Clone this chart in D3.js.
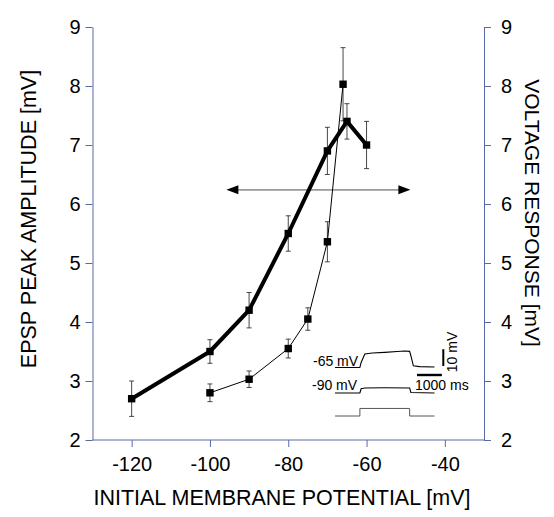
<!DOCTYPE html>
<html>
<head>
<meta charset="utf-8">
<script src="https://cdn.jsdelivr.net/npm/d3@7"></script>
<style>
  body { margin: 0; background: #fff; }
  svg text { font-family: "Liberation Sans", Arial, Helvetica, sans-serif; fill: #000; }
</style>
</head>
<body>
<svg id="svg" width="554" height="517"></svg>
<script>
// EPSP peak amplitude (thick line)
const epspX   = [-120, -100, -90, -80, -70, -65, -60];
const epspY   = [2.7, 3.5, 4.2, 5.5, 6.9, 7.4, 7.0];
const epspErr = [0.3, 0.2, 0.3, 0.3, 0.4, 0.3, 0.4];

// voltage response (thin line)
const voltX   = [-100, -90, -80, -75, -70, -66];
const voltY   = [2.8, 3.03, 3.55, 4.05, 5.36, 8.03];
const voltErr = [0.15, 0.14, 0.16, 0.19, 0.34, 0.62];

const xTicks = [-120, -100, -80, -60, -40];
const yTicks = [2, 3, 4, 5, 6, 7, 8, 9];

// arrow spanning the plot (mV, response)
const arrowX = [-95.8, -48.8];
const arrowY = 6.24;

// inset traces: time (ms), voltage (mV)
const trace65 = [[0,0],[1000,0],[1050,-3],[1200,-8],[1500,-8.6],[2000,-9],[2500,-9.5],[2800,-9.8],[3000,-9.6],[3050,-7],[3150,-1],[3400,-0.5],[4000,-0.3]];
const trace90 = [[0,0],[1000,0],[1050,-2.5],[1200,-3],[2000,-3.1],[3000,-3],[3050,-0.3],[4000,0]];
const stim    = [[0,0],[1000,0],[1000,-4.5],[3000,-4.5],[3000,0],[4000,0]];

const svg = d3.select("#svg");
const axisColor = "#5b68a6";

const x = d3.scaleLinear().domain([-130, -30]).range([92.5, 484]);
const y = d3.scaleLinear().domain([2, 9]).range([440, 27]);

// axes
const bottom = svg.append("g").attr("transform", "translate(0,440)")
    .call(d3.axisBottom(x).tickValues(xTicks).tickSize(7).tickPadding(10).tickSizeOuter(0));
const left = svg.append("g").attr("transform", "translate(92.5,0)")
    .call(d3.axisLeft(y).tickValues(yTicks).tickFormat(d3.format("d")).tickSize(7).tickPadding(5).tickSizeOuter(0));
const right = svg.append("g").attr("transform", "translate(484,0)")
    .call(d3.axisRight(y).tickValues(yTicks).tickFormat(d3.format("d")).tickSize(7).tickPadding(10).tickSizeOuter(0));

[bottom, left, right].forEach(g => {
  g.select(".domain").attr("stroke", axisColor);
  g.selectAll(".tick line").attr("stroke", axisColor);
  g.selectAll(".tick text").attr("font-size", 20).attr("fill", "#000")
   .style("font-family", '"Liberation Sans", Arial, sans-serif');
});
bottom.selectAll(".tick text").text(d => d < 0 ? "-" + Math.abs(d) : d);
// the bottom axis line runs the whole width
bottom.select(".domain").attr("d", `M${x.range()[0]},0H${x.range()[1]}`);

// axis titles
svg.append("text").attr("x", 282).attr("y", 505).attr("text-anchor", "middle")
   .attr("font-size", 21.5).text("INITIAL MEMBRANE POTENTIAL [mV]");
svg.append("text").attr("transform", "translate(36,219) rotate(-90)").attr("text-anchor", "middle")
   .attr("font-size", 21.5).text("EPSP PEAK AMPLITUDE [mV]");
svg.append("text").attr("transform", "translate(525,213) rotate(90)").attr("text-anchor", "middle")
   .attr("font-size", 21).text("VOLTAGE RESPONSE [mV]");

// arrow
const ax0 = x(arrowX[0]), ax1 = x(arrowX[1]), ay = y(arrowY);
svg.append("line").attr("x1", ax0 + 8).attr("x2", ax1 - 8).attr("y1", ay).attr("y2", ay)
   .attr("stroke", "#999").attr("stroke-width", 1.6);
svg.append("path").attr("d", `M${ax0},${ay}l12,-4.5v9z`).attr("fill", "#000");
svg.append("path").attr("d", `M${ax1},${ay}l-12,-4.5v9z`).attr("fill", "#000");

function drawSeries(xs, ys, errs, width) {
  const pts = xs.map((v, i) => ({x: v, y: ys[i], e: errs[i]}));
  const g = svg.append("g");
  g.selectAll(".err").data(pts).join("path")
    .attr("d", d => `M${x(d.x)},${y(d.y + d.e)}V${y(d.y - d.e)}M${x(d.x) - 2.5},${y(d.y + d.e)}h5M${x(d.x) - 2.5},${y(d.y - d.e)}h5`)
    .attr("stroke", "#333").attr("stroke-width", 0.9).attr("fill", "none");
  g.append("path").datum(pts)
    .attr("d", d3.line().x(d => x(d.x)).y(d => y(d.y)))
    .attr("fill", "none").attr("stroke", "#000").attr("stroke-width", width)
    .attr("stroke-linejoin", "round");
  g.selectAll(".mk").data(pts).join("rect")
    .attr("x", d => x(d.x) - 3.7).attr("y", d => y(d.y) - 3.7)
    .attr("width", 7.4).attr("height", 7.4).attr("fill", "#000");
}
drawSeries(voltX, voltY, voltErr, 1);
drawSeries(epspX, epspY, epspErr, 4);

// inset
const tx = d3.scaleLinear().domain([0, 4000]).range([335, 434.5]);
const mv = 1.68; // px per mV
const traceLine = base => d3.line().x(d => tx(d[0])).y(d => base + d[1] * mv);
const inset = svg.append("g");
inset.append("path").attr("d", traceLine(367.5)(trace65)).attr("fill", "none").attr("stroke", "#000").attr("stroke-width", 1.1);
inset.append("path").attr("d", traceLine(393)(trace90)).attr("fill", "none").attr("stroke", "#000").attr("stroke-width", 1.1);
inset.append("path").attr("d", traceLine(416)(stim)).attr("fill", "none").attr("stroke", "#555").attr("stroke-width", 1);
// scale bars
inset.append("line").attr("x1", 443.3).attr("x2", 443.3).attr("y1", 366).attr("y2", 366 - 10 * mv)
   .attr("stroke", "#000").attr("stroke-width", 2);
inset.append("line").attr("x1", tx(0) + 82).attr("x2", tx(1000) + 82).attr("y1", 375).attr("y2", 375)
   .attr("stroke", "#000").attr("stroke-width", 2.4);
inset.append("text").attr("x", 313).attr("y", 366).attr("font-size", 14).text("-65 mV");
inset.append("text").attr("x", 312).attr("y", 390).attr("font-size", 14).text("-90 mV");
inset.append("text").attr("x", 415).attr("y", 390).attr("font-size", 14).text("1000 ms");
inset.append("text").attr("transform", "translate(457,352) rotate(-90)").attr("text-anchor", "middle")
   .attr("font-size", 14).text("10 mV");
</script>
</body>
</html>
